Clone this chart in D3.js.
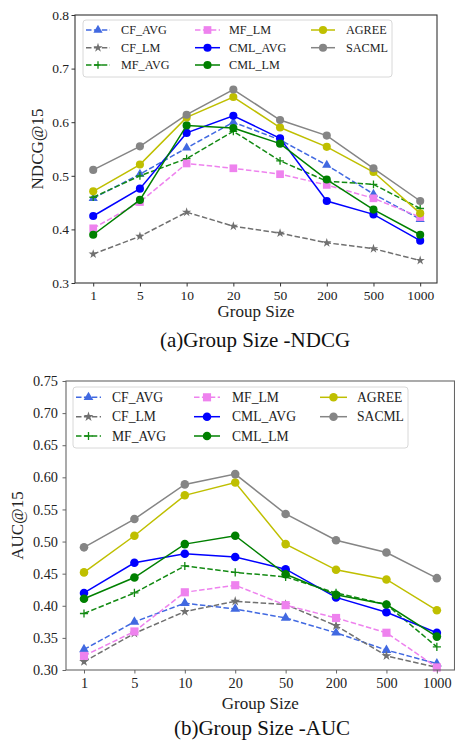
<!DOCTYPE html>
<html>
<head>
<meta charset="utf-8">
<script src="https://cdn.jsdelivr.net/npm/d3@7"></script>
<style>
  body { margin: 0; background: #fff; }
  svg { display: block; font-family: "Liberation Serif", "Times New Roman", serif; }
</style>
</head>
<body>
<script>
var groupSizes = ["1", "5", "10", "20", "50", "200", "500", "1000"];
var methods = ["CF_AVG", "CF_LM", "MF_AVG", "MF_LM", "CML_AVG", "CML_LM", "AGREE", "SACML"];

// NDCG@15 per group size
var ndcg_CF_AVG  = [0.458, 0.503, 0.552, 0.600, 0.567, 0.520, 0.466, 0.419];
var ndcg_CF_LM   = [0.354, 0.387, 0.432, 0.406, 0.393, 0.375, 0.364, 0.342];
var ndcg_MF_AVG  = [0.460, 0.500, 0.532, 0.583, 0.528, 0.490, 0.484, 0.439];
var ndcg_MF_LM   = [0.402, 0.451, 0.523, 0.514, 0.503, 0.483, 0.458, 0.423];
var ndcg_CML_AVG = [0.425, 0.476, 0.580, 0.612, 0.570, 0.453, 0.428, 0.379];
var ndcg_CML_LM  = [0.390, 0.455, 0.594, 0.589, 0.560, 0.493, 0.437, 0.390];
var ndcg_AGREE   = [0.471, 0.521, 0.609, 0.647, 0.590, 0.554, 0.507, 0.430];
var ndcg_SACML   = [0.511, 0.555, 0.614, 0.661, 0.604, 0.575, 0.514, 0.453];

// AUC@15 per group size
var auc_CF_AVG  = [0.332, 0.375, 0.404, 0.395, 0.381, 0.358, 0.331, 0.310];
var auc_CF_LM   = [0.313, 0.357, 0.391, 0.407, 0.402, 0.369, 0.322, 0.304];
var auc_MF_AVG  = [0.388, 0.420, 0.462, 0.452, 0.445, 0.420, 0.402, 0.336];
var auc_MF_LM   = [0.322, 0.360, 0.421, 0.432, 0.401, 0.381, 0.358, 0.304];
var auc_CML_AVG = [0.420, 0.467, 0.481, 0.476, 0.457, 0.413, 0.390, 0.358];
var auc_CML_LM  = [0.411, 0.444, 0.496, 0.509, 0.449, 0.417, 0.402, 0.352];
var auc_AGREE   = [0.452, 0.509, 0.572, 0.592, 0.496, 0.456, 0.441, 0.393];
var auc_SACML   = [0.491, 0.535, 0.589, 0.605, 0.543, 0.502, 0.483, 0.443];

var ndcgTicks = [0.3, 0.4, 0.5, 0.6, 0.7, 0.8];
var aucTicks = [0.30, 0.35, 0.40, 0.45, 0.50, 0.55, 0.60, 0.65, 0.70, 0.75];

// line style per method
var styles = {
    CF_AVG:  {color: "#4169e1", dash: true,  marker: "triangle"},
    CF_LM:   {color: "#707070", dash: true,  marker: "star"},
    MF_AVG:  {color: "#138a13", dash: true,  marker: "plus"},
    MF_LM:   {color: "#ee82ee", dash: true,  marker: "square"},
    CML_AVG: {color: "#0000ff", dash: false, marker: "circle"},
    CML_LM:  {color: "#008000", dash: false, marker: "circle"},
    AGREE:   {color: "#bfbf00", dash: false, marker: "circle"},
    SACML:   {color: "#858585", dash: false, marker: "circle"}
};

var svg = d3.select("body").append("svg").attr("width", 455).attr("height", 741);

function drawMarker(g, kind, cx, cy, color, s) {
    if (kind === "circle") {
        g.append("circle").attr("cx", cx).attr("cy", cy).attr("r", s * 0.58).attr("fill", color);
    } else if (kind === "square") {
        g.append("rect").attr("x", cx - s * 0.55).attr("y", cy - s * 0.55)
            .attr("width", s * 1.1).attr("height", s * 1.1).attr("fill", color);
    } else if (kind === "triangle") {
        g.append("path").attr("transform", "translate(" + cx + "," + cy + ")")
            .attr("d", d3.symbol().type(d3.symbolTriangle).size(s * s * 0.75)).attr("fill", color);
    } else if (kind === "star") {
        g.append("path").attr("transform", "translate(" + cx + "," + cy + ")")
            .attr("d", d3.symbol().type(d3.symbolStar).size(s * s * 0.55)).attr("fill", color);
    } else if (kind === "plus") {
        var h = s * 0.55;
        g.append("path").attr("d", "M" + (cx - h) + "," + cy + "H" + (cx + h) + "M" + cx + "," + (cy - h) + "V" + (cy + h))
            .attr("stroke", color).attr("stroke-width", 1.3).attr("fill", "none");
    }
}

function drawChart(cfg) {
    var g = svg.append("g");
    var x = d3.scaleLinear().domain(cfg.xDomain).range([cfg.left, cfg.right]);
    var y = d3.scaleLinear().domain([cfg.ticks[0], cfg.ticks[cfg.ticks.length - 1]]).range([cfg.bottom, cfg.top]);

    // series
    var line = d3.line().x(function(d, i) { return x(i); }).y(function(d) { return y(d); });
    methods.forEach(function(m) {
        var st = styles[m];
        var vals = cfg.series[m];
        g.append("path").datum(vals).attr("d", line)
            .attr("fill", "none").attr("stroke", st.color).attr("stroke-width", 1.5)
            .attr("stroke-dasharray", st.dash ? "5.5,2.4" : null);
        vals.forEach(function(v, i) {
            drawMarker(g, st.marker, x(i), y(v), st.color, cfg.ms);
        });
    });

    // axes
    var xa = g.append("g").attr("transform", "translate(0," + cfg.bottom + ")")
        .call(d3.axisBottom(x).tickValues(d3.range(groupSizes.length))
            .tickFormat(function(i) { return groupSizes[i]; }).tickSize(3.5).tickPadding(4).tickSizeOuter(0));
    var ya = g.append("g").attr("transform", "translate(" + cfg.left + ",0)")
        .call(d3.axisLeft(y).tickValues(cfg.ticks).tickFormat(d3.format(cfg.fmt))
            .tickSize(3.5).tickPadding(cfg.yPad).tickSizeOuter(0));
    [xa, ya].forEach(function(a) {
        a.select(".domain").remove();
        a.selectAll("line").attr("stroke", cfg.spine);
        a.selectAll("text").attr("font-size", cfg.tickFont).attr("fill", "#222")
            .attr("font-family", "Liberation Serif, serif");
    });

    // frame
    g.append("rect").attr("x", cfg.left).attr("y", cfg.top)
        .attr("width", cfg.right - cfg.left).attr("height", cfg.bottom - cfg.top)
        .attr("fill", "none").attr("stroke", cfg.spine).attr("stroke-width", 1.1);

    // legend
    var lg = cfg.legend;
    g.append("rect").attr("x", lg.x0).attr("y", lg.y0).attr("width", lg.x1 - lg.x0).attr("height", lg.y1 - lg.y0)
        .attr("rx", 3).attr("fill", "#fff").attr("fill-opacity", 0.85)
        .attr("stroke", "#d8d8d8").attr("stroke-width", 1);
    methods.forEach(function(m, k) {
        var col = Math.floor(k / 3), row = k % 3;
        var st = styles[m];
        var hx0 = lg.handles[col][0], hx1 = lg.handles[col][1], ly = lg.rows[row];
        g.append("line").attr("x1", hx0).attr("x2", hx1).attr("y1", ly).attr("y2", ly)
            .attr("stroke", st.color).attr("stroke-width", 1.5)
            .attr("stroke-dasharray", st.dash ? "5.5,2.4" : null);
        drawMarker(g, st.marker, (hx0 + hx1) / 2, ly, st.color, cfg.ms);
        g.append("text").attr("x", lg.texts[col]).attr("y", ly).attr("dy", "0.35em")
            .attr("font-size", lg.font).attr("fill", "#222").text(m);
    });

    // labels
    g.append("text").attr("x", (cfg.left + cfg.right) / 2).attr("y", cfg.xLabelY)
        .attr("text-anchor", "middle").attr("font-size", 17).attr("fill", "#222").text("Group Size");
    g.append("text").attr("transform", "translate(" + cfg.yLabelX + "," + ((cfg.top + cfg.bottom) / 2) + ") rotate(-90)")
        .attr("text-anchor", "middle").attr("font-size", 17).attr("fill", "#222").text(cfg.yLabel);
    g.append("text").attr("x", cfg.captionX).attr("y", cfg.captionY)
        .attr("text-anchor", "middle").attr("font-size", 21).attr("fill", "#111").text(cfg.caption);
}

drawChart({
    left: 75, right: 437, top: 15, bottom: 283,
    xDomain: [-0.39, 7.36],
    ticks: ndcgTicks, fmt: ".1f", yPad: 2.5, tickFont: 13.5,
    spine: "#333", ms: 7,
    series: {CF_AVG: ndcg_CF_AVG, CF_LM: ndcg_CF_LM, MF_AVG: ndcg_MF_AVG, MF_LM: ndcg_MF_LM,
             CML_AVG: ndcg_CML_AVG, CML_LM: ndcg_CML_LM, AGREE: ndcg_AGREE, SACML: ndcg_SACML},
    legend: {x0: 83, x1: 392, y0: 20, y1: 77, rows: [30, 47.7, 65],
             handles: [[86, 110], [195, 220], [311, 335]], texts: [121, 229, 346], font: 12.2},
    xLabelY: 317, yLabelX: 43, yLabel: "NDCG@15",
    captionX: 255, captionY: 347, caption: "(a)Group Size -NDCG"
});

drawChart({
    left: 66, right: 454.5, top: 381, bottom: 670,
    xDomain: [-0.357, 7.35],
    ticks: aucTicks, fmt: ".2f", yPad: 4.5, tickFont: 14.3,
    spine: "#666", ms: 7.4,
    series: {CF_AVG: auc_CF_AVG, CF_LM: auc_CF_LM, MF_AVG: auc_MF_AVG, MF_LM: auc_MF_LM,
             CML_AVG: auc_CML_AVG, CML_LM: auc_CML_LM, AGREE: auc_AGREE, SACML: auc_SACML},
    legend: {x0: 73, x1: 408, y0: 387, y1: 448, rows: [397.3, 416.7, 436],
             handles: [[76, 101], [194, 220], [320, 347]], texts: [112, 232, 357], font: 13.6},
    xLabelY: 709, yLabelX: 22.5, yLabel: "AUC@15",
    captionX: 262, captionY: 735, caption: "(b)Group Size -AUC"
});
</script>
</body>
</html>
